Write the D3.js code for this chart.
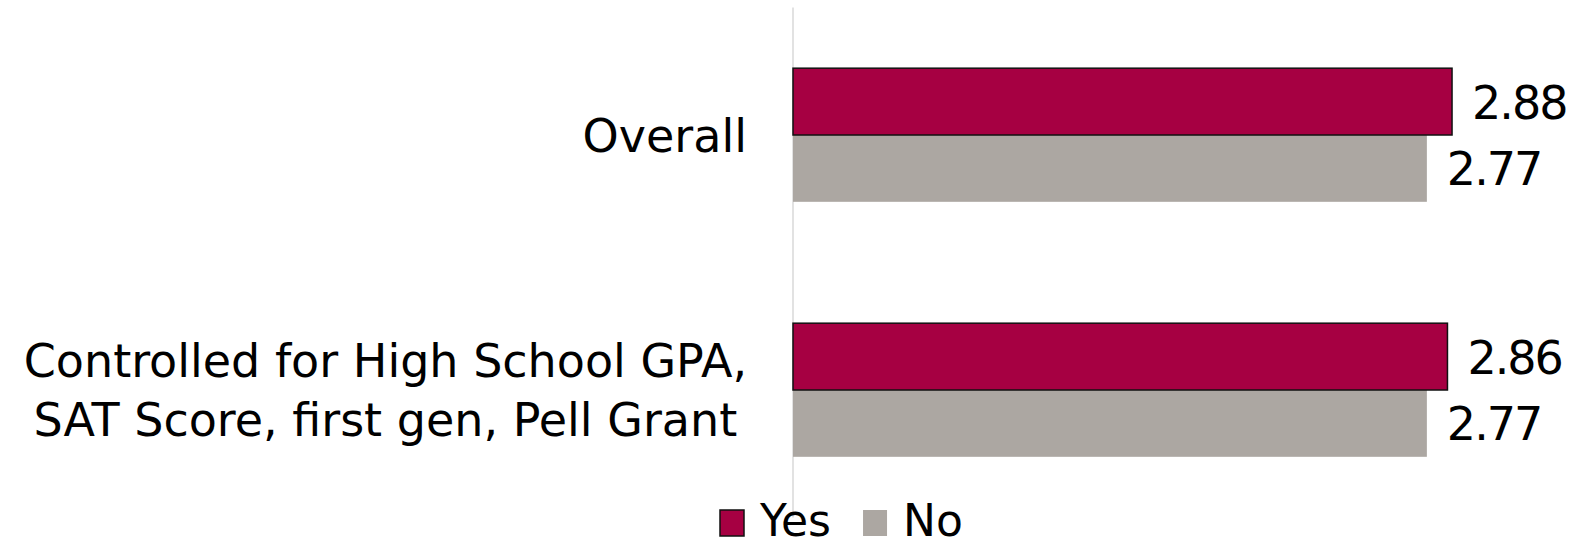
<!DOCTYPE html>
<html>
<head>
<meta charset="utf-8">
<script src="https://cdn.jsdelivr.net/npm/d3@7"></script>
<style>
  html, body { margin: 0; padding: 0; background: #fff; }
  svg { display: block; font-family: "DejaVu Sans", sans-serif; }
</style>
</head>
<body>
<svg id="chart"></svg>
<script>
const width = 1570;
const height = 547;

// data
const categories = ["Overall", "Controlled for High School GPA,\nSAT Score, first gen, Pell Grant"];
const seriesNames = ["Yes", "No"];
const yesValues = [2.88, 2.86];
const noValues = [2.77, 2.77];
const colors = ["#a60042", "#aca7a2"];

const rows = categories.map((c, i) => ({ cat: c, values: [yesValues[i], noValues[i]] }));

const svg = d3.select("#chart")
    .attr("width", width)
    .attr("height", height)
    .attr("viewBox", [0, 0, width, height]);

const x = d3.scaleLinear().domain([0, 3]).range([793, 1479.5]);

const y = d3.scaleBand()
    .domain(categories)
    .range([7.5, 517.5])
    .paddingInner(0.476)
    .paddingOuter(0.238);

const ySub = d3.scaleBand().domain(seriesNames).range([0, y.bandwidth()]);

const fs = 46;

// vertical axis line
svg.append("line")
    .attr("x1", x(0)).attr("x2", x(0))
    .attr("y1", y.range()[0]).attr("y2", y.range()[1])
    .attr("stroke", "#d9d9d9")
    .attr("stroke-width", 1.5);

const groups = svg.selectAll("g.cat")
    .data(rows)
    .enter().append("g")
    .attr("class", "cat")
    .attr("transform", d => `translate(0,${y(d.cat)})`);

// draw No first so the Yes outline sits on top
groups.selectAll("rect")
    .data(d => d.values.map((v, i) => ({ name: seriesNames[i], v, i })).reverse())
    .enter().append("rect")
    .attr("x", x(0))
    .attr("y", d => ySub(d.name))
    .attr("width", d => x(d.v) - x(0))
    .attr("height", ySub.bandwidth())
    .attr("fill", d => colors[d.i])
    .attr("stroke", d => d.i === 0 ? "#111" : "none")
    .attr("stroke-width", 1.5);

groups.selectAll("text.val")
    .data(d => d.values.map((v, i) => ({ name: seriesNames[i], v })))
    .enter().append("text")
    .attr("class", "val")
    .attr("x", d => x(d.v) + 20)
    .attr("y", d => ySub(d.name) + ySub.bandwidth() / 2 + 17)
    .attr("font-size", fs)
    .attr("letter-spacing", -2)
    .attr("fill", "#000")
    .text(d => d.v.toFixed(2));

// category labels, lines centred within a block whose right edge is 747
const labelRight = 747;
const lineGap = 58.7;
rows.forEach(r => {
    const lines = r.cat.split("\n");
    const c = y(r.cat) + y.bandwidth() / 2;
    const t = svg.append("text")
        .attr("font-size", fs)
        .attr("fill", "#000")
        .attr("text-anchor", "middle");
    const spans = lines.map((ln, j) => t.append("tspan")
        .attr("y", c + (j - (lines.length - 1) / 2) * lineGap + 0.365 * fs)
        .text(ln));
    const maxW = d3.max(spans, s => s.node().getComputedTextLength());
    spans.forEach(s => s.attr("x", labelRight - maxW / 2));
});

// legend (kept just inside the bottom edge)
const legend = svg.append("g");
let lx = 720;
seriesNames.forEach((name, i) => {
    legend.append("rect")
        .attr("x", lx).attr("y", 510)
        .attr("width", 24).attr("height", 26)
        .attr("fill", colors[i])
        .attr("stroke", i === 0 ? "#111" : "none")
        .attr("stroke-width", 1.5);
    const t = legend.append("text")
        .attr("x", lx + 40)
        .attr("y", 536)
        .attr("font-size", 44)
        .attr("fill", "#000")
        .text(name);
    lx += 40 + t.node().getComputedTextLength() + 32;
});
</script>
</body>
</html>
